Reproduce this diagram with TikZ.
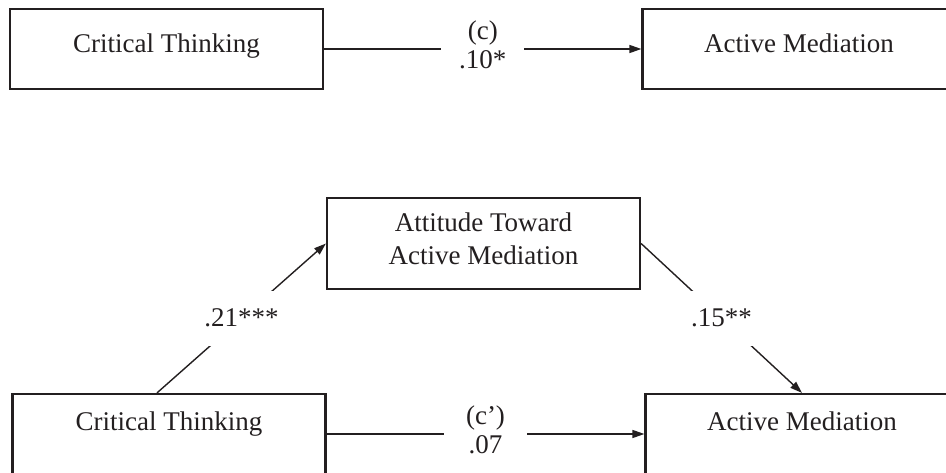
\documentclass[tikz,border=0pt]{standalone}
\usepackage{fontspec}
\setmainfont{Liberation Serif}
\usetikzlibrary{arrows.meta}
\definecolor{ink}{RGB}{35,31,32}
\newcommand\lowstrut{\rule[-9pt]{0pt}{9pt}}
\begin{document}
\begin{tikzpicture}[x=1pt,y=-1pt,
  box/.style={draw=ink, line width=2.2pt, rectangle, minimum width=313pt, minimum height=80pt, inner sep=0pt, text=ink, font=\fontsize{27}{33}\selectfont},
  onebox/.style={box, text height=18.4pt, text depth=10.4pt},
  lowbox/.style={box, text height=18.4pt, text depth=26.4pt},
  conn/.style={draw=ink, line width=1.4pt},
  arr/.style={conn, -{Triangle[length=12pt,width=8pt]}},
  lab/.style={fill=white, text=ink, inner sep=0pt, minimum width=83pt, minimum height=55pt, align=center, font=\fontsize{27}{29}\selectfont}]
\useasboundingbox (0,0) rectangle (946,473);
\clip (0,0) rectangle (946,473);
% top model
\node[onebox] (ct1) at (166.5,49) {Critical Thinking};
\node[onebox] (am1) at (799,49) {Active Mediation};
\draw[arr] (ct1.east) -- node[lab] (lc) {(c)\\.10*\lowstrut} (am1.west);
% mediation model
\node[box, minimum height=91pt, align=center] (att) at (483.5,243.5) {Attitude Toward\\Active Mediation\lowstrut};
\node[lowbox] (ct2) at (169,434) {Critical Thinking};
\node[lowbox] (am2) at (802,434) {Active Mediation};
\coordinate (s1) at ([xshift=-12pt]ct2.north);
\draw[arr] (s1) -- node[lab] (la) {.21***} (att.west);
\draw[arr] (att.east) -- node[lab] (lb) {.15**} (am2.north);
\draw[arr] (ct2.east) -- node[lab] (lcp) {(c’)\\.07\lowstrut} (am2.west);
\end{tikzpicture}
\end{document}
